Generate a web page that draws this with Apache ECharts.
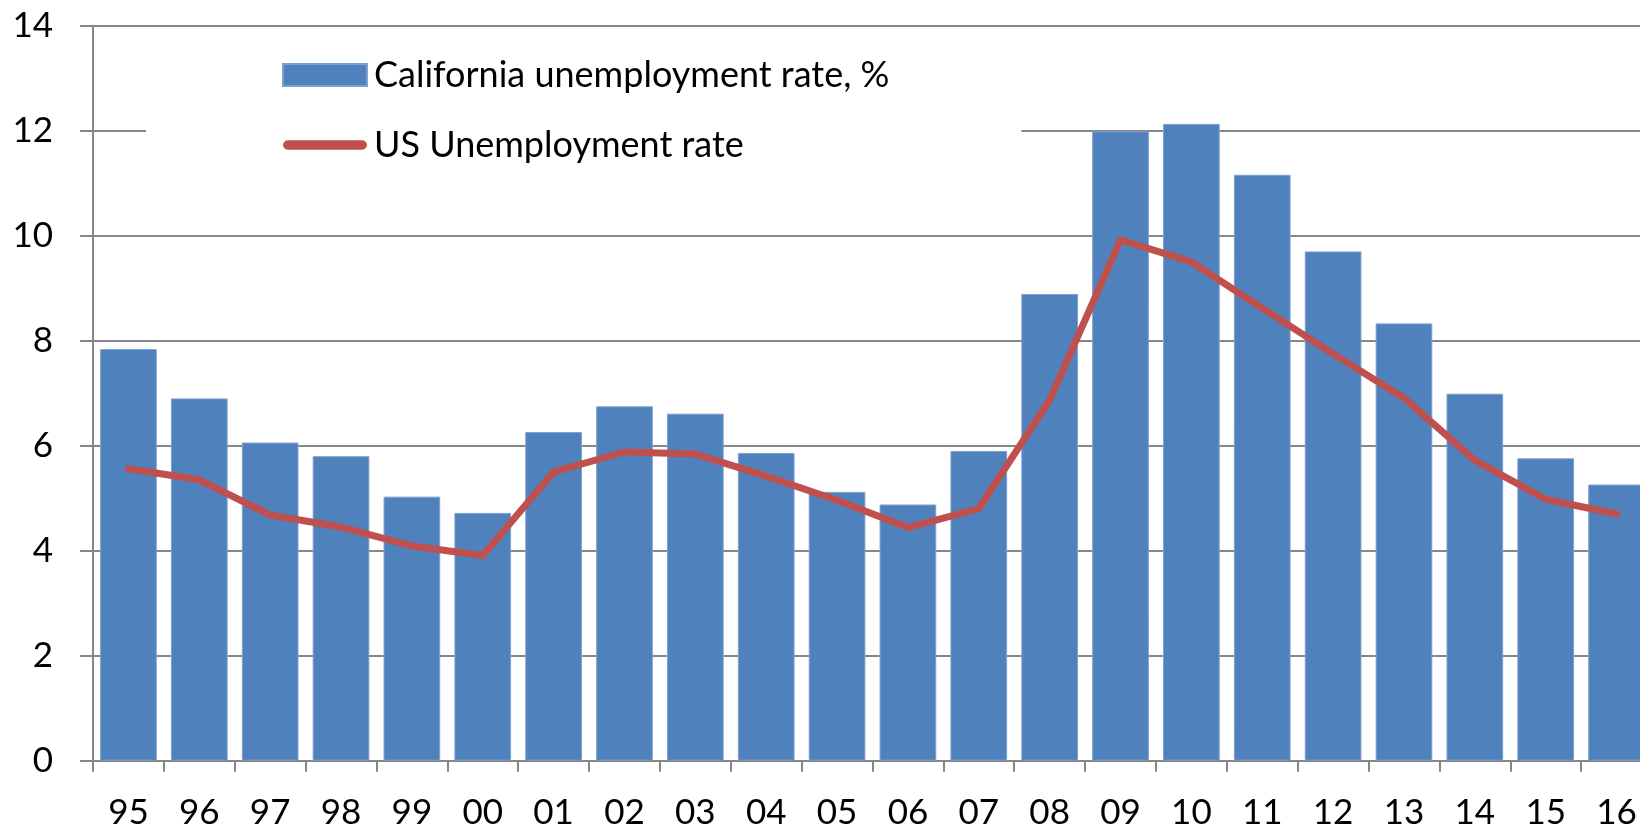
<!DOCTYPE html>
<html>
<head>
<meta charset="utf-8">
<script src="https://cdn.jsdelivr.net/npm/echarts@6/dist/echarts.min.js"></script>
<style>
html,body{margin:0;padding:0;background:#fff;}
#chart{width:1640px;height:832px;}
</style>
</head>
<body>
<div id="chart"></div>
<script>
const years = ['95','96','97','98','99','00','01','02','03','04','05','06','07','08','09','10','11','12','13','14','15','16'];
const californiaRate = [7.84,6.90,6.06,5.80,5.03,4.72,6.26,6.75,6.61,5.86,5.12,4.88,5.90,8.89,11.99,12.13,11.16,9.70,8.33,6.99,5.76,5.26];
const usRate = [5.56,5.35,4.68,4.45,4.09,3.91,5.50,5.88,5.84,5.42,4.96,4.44,4.80,6.87,9.92,9.50,8.62,7.75,6.91,5.72,4.98,4.70];
const yTicks = [0,2,4,6,8,10,12,14];
const seriesNames = ['California unemployment rate, %','US Unemployment rate'];

const chart = echarts.init(document.getElementById('chart'));
const gray = '#878787';
chart.setOption({
  animation:false,
  backgroundColor:'#ffffff',
  textStyle:{fontFamily:'Lato'},
  grid:{left:93, top:25.7, width:1559, height:735, containLabel:false, outerBoundsMode:'none'},
  legend:{
    orient:'vertical',
    left:146, top:33,
    padding:[24,132,24,136],
    backgroundColor:'#ffffff',
    itemWidth:84, itemHeight:22, itemGap:34,
    symbolKeepAspect:true,
    textStyle:{fontFamily:'Lato', fontSize:36, color:'#000', padding:[0,0,0,2]},
    data:[
      {name:seriesNames[0], icon:'rect'},
      {name:seriesNames[1], icon:'path://M5,0 H83 A5,5 0 0 1 83,10 H5 A5,5 0 0 1 5,0 Z', itemStyle:{color:'#C0504D'}}
    ],
    selectedMode:false
  },
  xAxis:{
    type:'category',
    data:years,
    boundaryGap:true,
    axisLine:{lineStyle:{color:gray,width:2}},
    axisTick:{show:true,length:11,lineStyle:{color:gray,width:2}},
    axisLabel:{color:'#000',fontSize:35,margin:35,fontFamily:'Lato'},
    splitLine:{show:false}
  },
  yAxis:{
    type:'value',
    min:yTicks[0], max:yTicks[yTicks.length-1], interval:2,
    axisLine:{show:true,lineStyle:{color:gray,width:2}},
    axisTick:{show:true,length:13,lineStyle:{color:gray,width:2}},
    axisLabel:{color:'#000',fontSize:35,margin:40,fontFamily:'Lato'},
    splitLine:{show:true,lineStyle:{color:gray,width:2}}
  },
  series:[
    {
      name:seriesNames[0], type:'bar', data:californiaRate,
      barCategoryGap:'20%',
      itemStyle:{color:'#4F81BD', borderColor:'#7FA0CF', borderWidth:1}
    },
    {
      name:seriesNames[1], type:'line', data:usRate,
      symbol:'none',
      lineStyle:{color:'#C0504D', width:7, cap:'round', join:'round'},
      itemStyle:{color:'#C0504D'}
    }
  ]
});
</script>
</body>
</html>
